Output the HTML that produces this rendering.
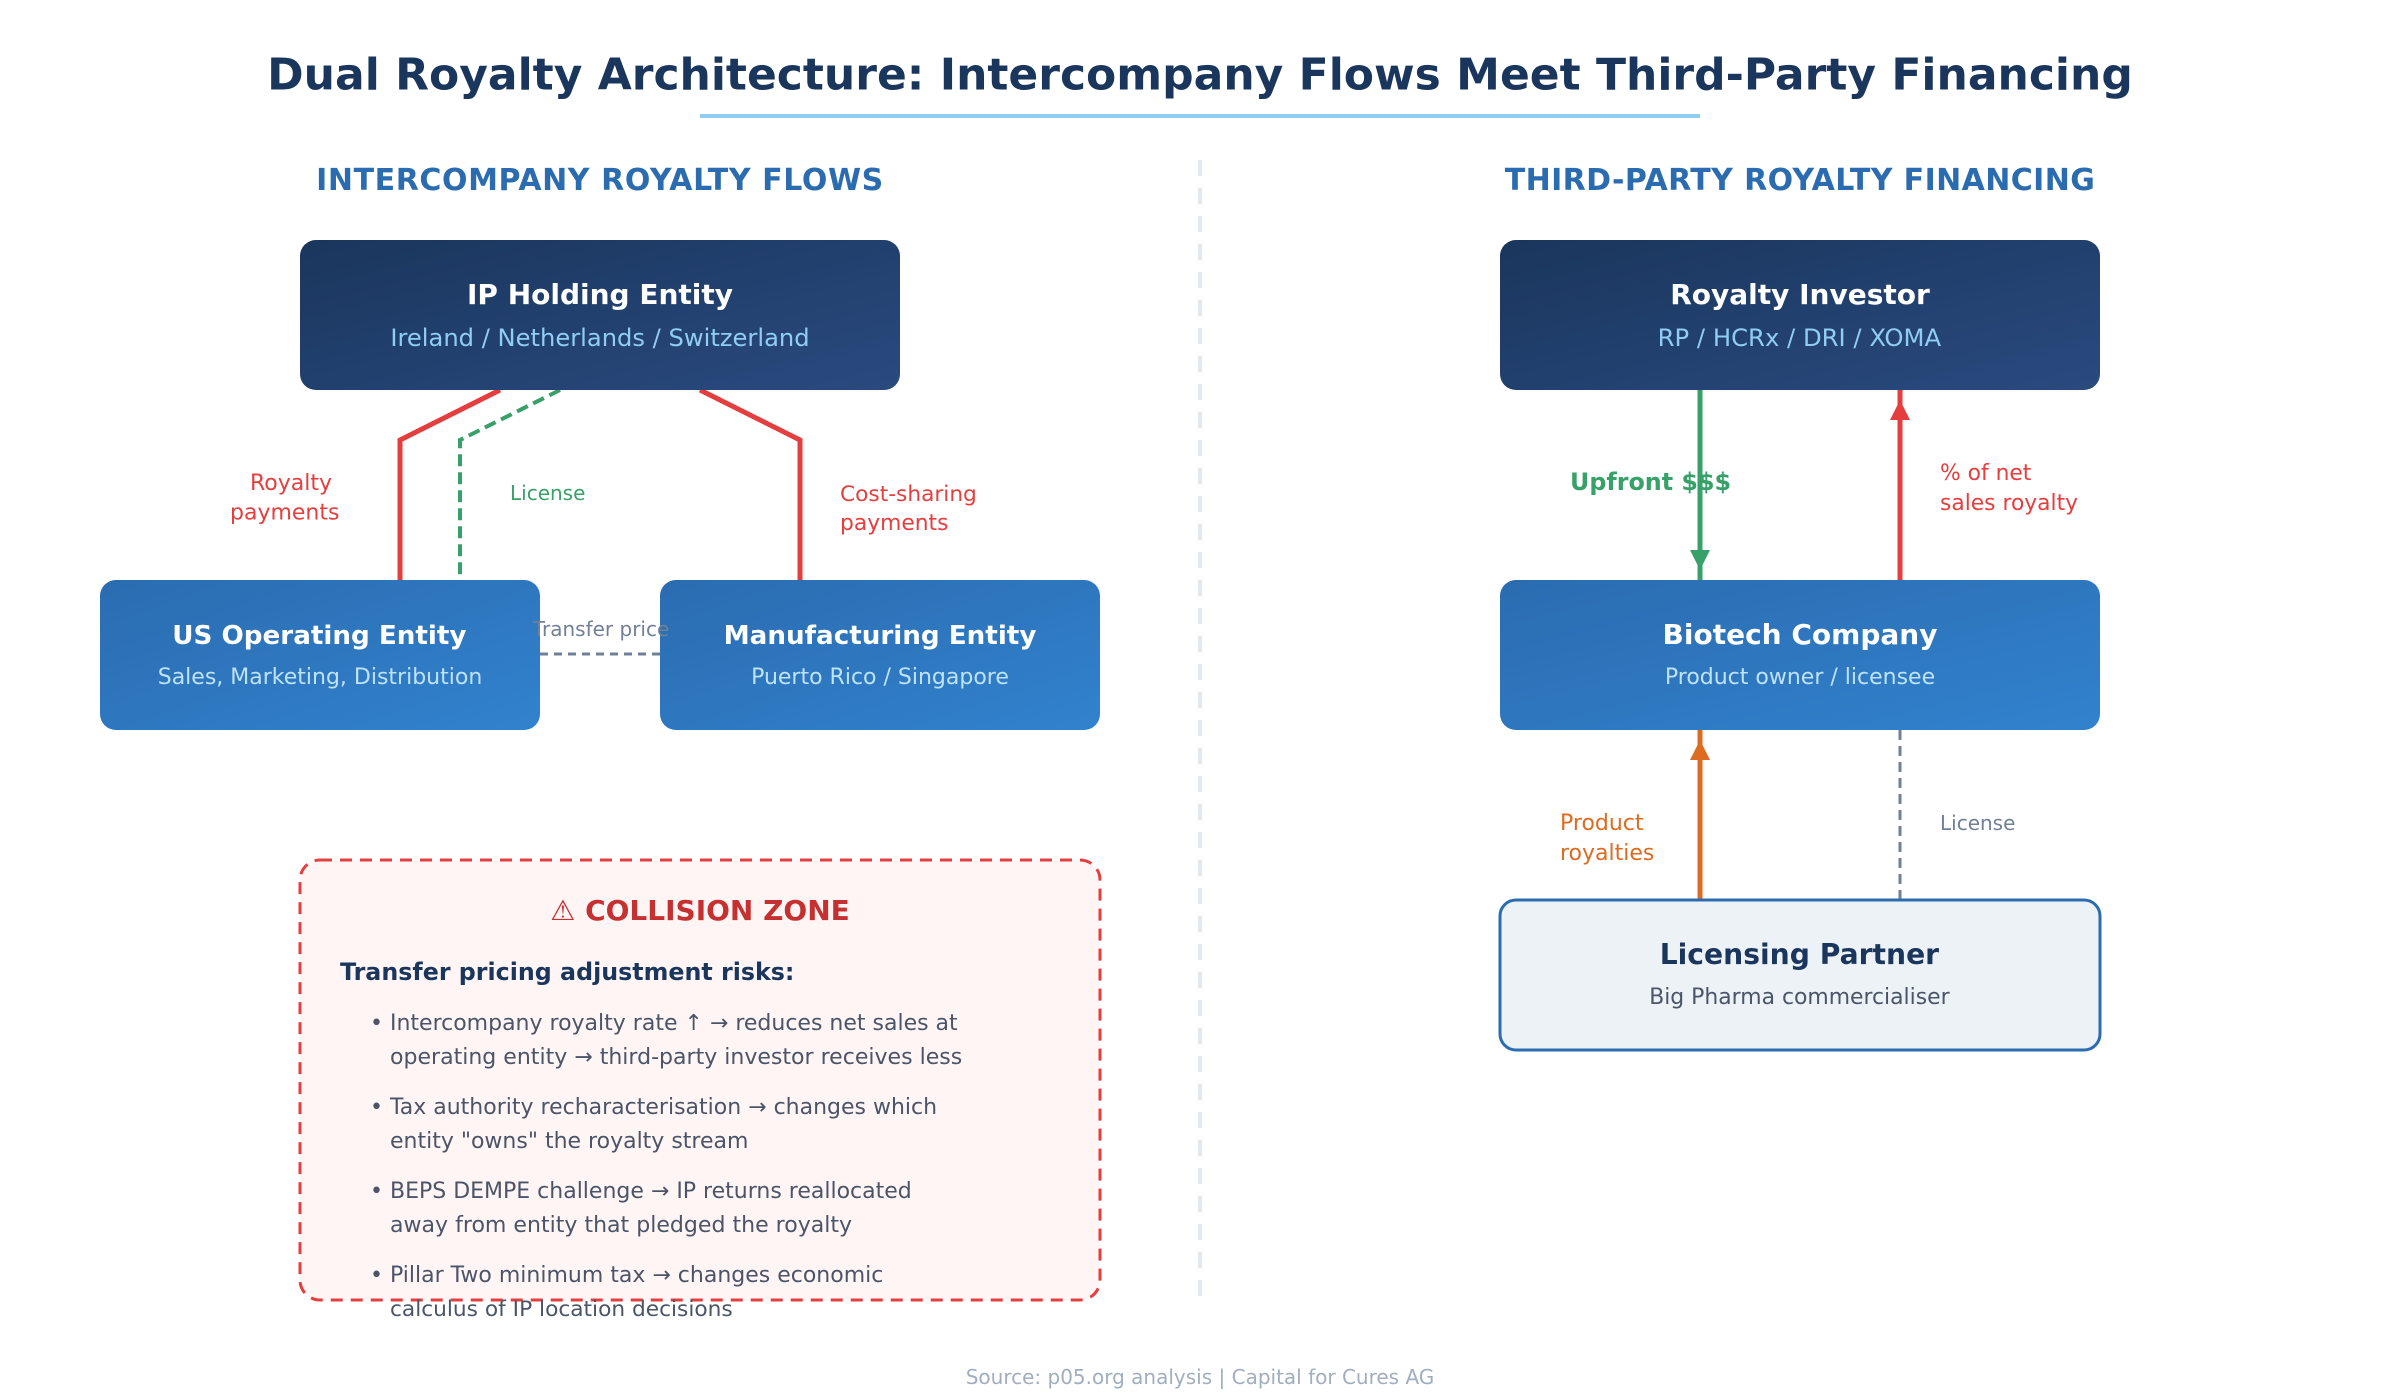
<!DOCTYPE html>
<html><head><meta charset="utf-8"><style>
html,body{margin:0;padding:0;background:#fff;width:2400px;height:1400px;overflow:hidden}
svg{display:block}
text{font-family:"DejaVu Sans",sans-serif}
</style></head><body>
<svg width="2400" height="1400" viewBox="0 0 1200 700" xmlns="http://www.w3.org/2000/svg">
<defs>
<linearGradient id="d" x1="0" y1="0" x2="1" y2="1"><stop offset="0" stop-color="#1a365d"/><stop offset="1" stop-color="#2a4a7f"/></linearGradient>
<linearGradient id="b" x1="0" y1="0" x2="1" y2="1"><stop offset="0" stop-color="#2b6cb0"/><stop offset="1" stop-color="#3182ce"/></linearGradient>
</defs>
<rect width="1200" height="700" fill="#fff"/>
<text x="600" y="44.8" text-anchor="middle" font-size="22" font-weight="700" fill="#1a365d">Dual Royalty Architecture: Intercompany Flows Meet Third-Party Financing</text>
<line x1="350" y1="58" x2="850" y2="58" stroke="#90cdf4" stroke-width="2"/>
<line x1="600" y1="80" x2="600" y2="650" stroke="#e2e8f0" stroke-width="2" stroke-dasharray="8 6"/>
<text x="300" y="95" text-anchor="middle" font-size="15" letter-spacing="0.29" font-weight="700" fill="#2b6cb0">INTERCOMPANY ROYALTY FLOWS</text>
<text x="900" y="95" text-anchor="middle" font-size="15" letter-spacing="0.2" font-weight="700" fill="#2b6cb0">THIRD-PARTY ROYALTY FINANCING</text>

<polyline points="250,195 200,220 200,290" fill="none" stroke="#e53e3e" stroke-width="2.5"/>
<polyline points="280,195 230,220 230,290" fill="none" stroke="#38a169" stroke-width="2" stroke-dasharray="6 3"/>
<polyline points="350,195 400,220 400,290" fill="none" stroke="#e53e3e" stroke-width="2.5"/>
<line x1="270" y1="327" x2="330" y2="327" stroke="#718096" stroke-width="1.5" stroke-dasharray="4 3"/>

<rect x="150" y="120" width="300" height="75" rx="8" fill="url(#d)"/>
<text x="300" y="152" text-anchor="middle" font-size="14" font-weight="700" fill="#fff">IP Holding Entity</text>
<text x="300" y="173" text-anchor="middle" font-size="12.1" fill="#90cdf4">Ireland / Netherlands / Switzerland</text>

<rect x="50" y="290" width="220" height="75" rx="8" fill="url(#b)"/>
<text x="159.7" y="322" text-anchor="middle" font-size="13.1" font-weight="700" fill="#fff">US Operating Entity</text>
<text x="160" y="342" text-anchor="middle" font-size="11" fill="#bee3f8">Sales, Marketing, Distribution</text>

<rect x="330" y="290" width="220" height="75" rx="8" fill="url(#b)"/>
<text x="440" y="322" text-anchor="middle" font-size="13.1" font-weight="700" fill="#fff">Manufacturing Entity</text>
<text x="440" y="342" text-anchor="middle" font-size="11" fill="#bee3f8">Puerto Rico / Singapore</text>

<text x="125" y="245" font-size="11" fill="#e53e3e">Royalty</text>
<text x="115" y="259.7" font-size="11" fill="#e53e3e">payments</text>
<text x="255" y="250" font-size="10" fill="#38a169">License</text>
<text x="420" y="250.5" font-size="10.85" fill="#e53e3e">Cost-sharing</text>
<text x="420" y="265" font-size="10.9" fill="#e53e3e">payments</text>
<text x="300.5" y="318" text-anchor="middle" font-size="10" fill="#718096">Transfer price</text>

<line x1="850" y1="195" x2="850" y2="290" stroke="#38a169" stroke-width="2.5"/>
<polygon points="845,275 855,275 850,285" fill="#38a169"/>
<line x1="950" y1="290" x2="950" y2="195" stroke="#e53e3e" stroke-width="2.5"/>
<polygon points="945,210 955,210 950,200" fill="#e53e3e"/>
<line x1="850" y1="450" x2="850" y2="365" stroke="#dd6b20" stroke-width="2.5"/>
<polygon points="845,380 855,380 850,370" fill="#dd6b20"/>
<line x1="950" y1="365" x2="950" y2="450" stroke="#718096" stroke-width="1.5" stroke-dasharray="5 3"/>

<rect x="750" y="120" width="300" height="75" rx="8" fill="url(#d)"/>
<text x="900" y="152" text-anchor="middle" font-size="14" font-weight="700" fill="#fff">Royalty Investor</text>
<text x="899.7" y="173" text-anchor="middle" font-size="12.15" fill="#90cdf4">RP / HCRx / DRI / XOMA</text>

<rect x="750" y="290" width="300" height="75" rx="8" fill="url(#b)"/>
<text x="900" y="322" text-anchor="middle" font-size="14" font-weight="700" fill="#fff">Biotech Company</text>
<text x="900" y="342" text-anchor="middle" font-size="11" fill="#bee3f8">Product owner / licensee</text>

<rect x="750" y="450" width="300" height="75" rx="8" fill="#edf2f7" stroke="#2b6cb0" stroke-width="1.5"/>
<text x="899.7" y="482" text-anchor="middle" font-size="14.1" font-weight="700" fill="#1a365d">Licensing Partner</text>
<text x="899.7" y="502" text-anchor="middle" font-size="10.95" fill="#4a5568">Big Pharma commercialiser</text>

<text x="785" y="245" font-size="11.9" font-weight="700" fill="#38a169">Upfront $$$</text>
<text x="970" y="240" font-size="10.9" fill="#e53e3e">% of net</text>
<text x="970" y="255" font-size="10.9" fill="#e53e3e">sales royalty</text>
<text x="780" y="415" font-size="11" fill="#dd6b20">Product</text>
<text x="780" y="430" font-size="11" fill="#dd6b20">royalties</text>
<text x="970" y="415" font-size="10" fill="#718096">License</text>

<rect x="150" y="430" width="400" height="220" rx="10" fill="#fff5f5" stroke="#e53e3e" stroke-width="1.5" stroke-dasharray="6 4"/>
<text x="350" y="460" text-anchor="middle" font-size="14" font-weight="700" fill="#c53030">⚠ COLLISION ZONE</text>
<text x="170" y="490" font-size="11.88" font-weight="700" fill="#1a365d">Transfer pricing adjustment risks:</text>
<text x="185" y="515" font-size="11" fill="#4a5568">• Intercompany royalty rate ↑ → reduces net sales at</text>
<text x="195" y="532" font-size="11.02" fill="#4a5568">operating entity → third-party investor receives less</text>
<text x="185" y="557" font-size="11" fill="#4a5568">• Tax authority recharacterisation → changes which</text>
<text x="195" y="574" font-size="11" fill="#4a5568">entity "owns" the royalty stream</text>
<text x="185" y="599" font-size="11" fill="#4a5568">• BEPS DEMPE challenge → IP returns reallocated</text>
<text x="195" y="616" font-size="11.03" fill="#4a5568">away from entity that pledged the royalty</text>
<text x="185" y="641" font-size="11" fill="#4a5568">• Pillar Two minimum tax → changes economic</text>
<text x="195" y="658" font-size="10.85" fill="#4a5568">calculus of IP location decisions</text>

<text x="600" y="692" text-anchor="middle" font-size="10" fill="#a0aec0">Source: p05.org analysis | Capital for Cures AG</text>
</svg>
</body></html>
